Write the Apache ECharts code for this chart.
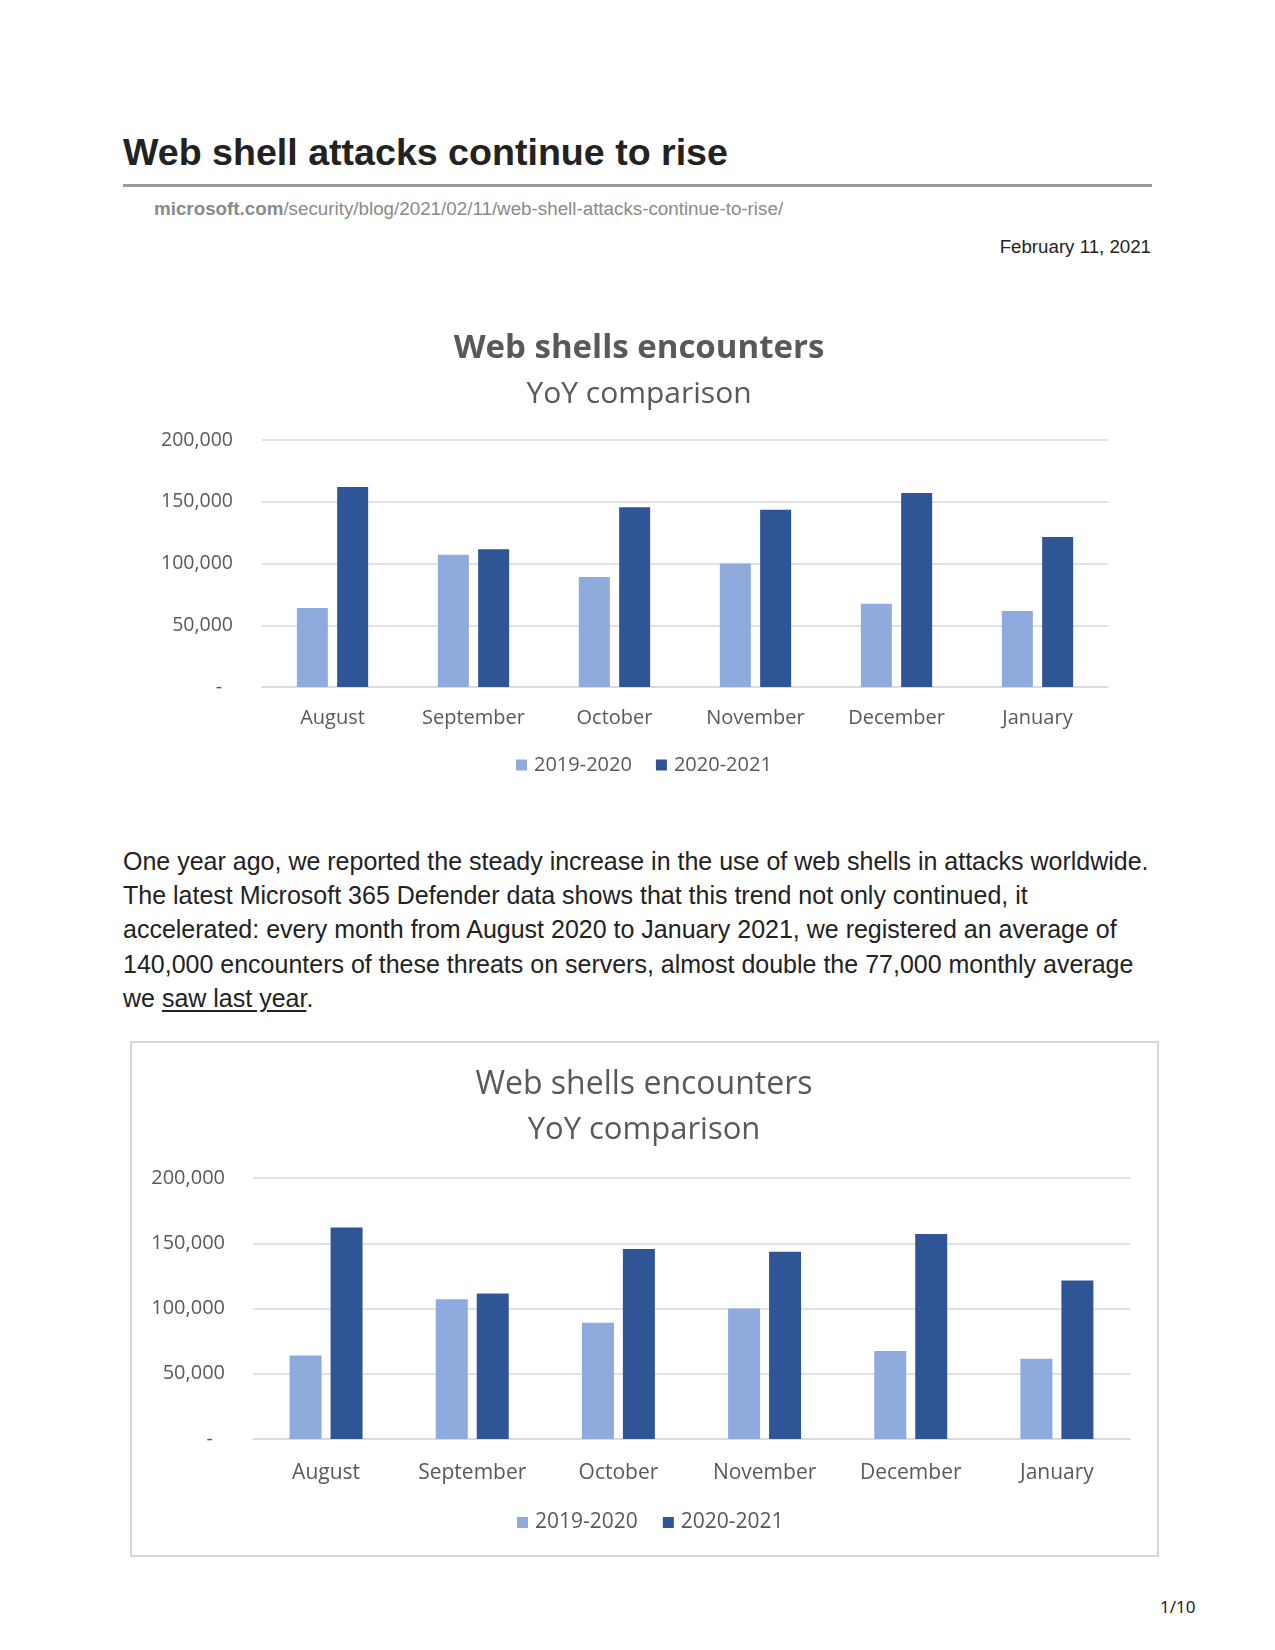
<!DOCTYPE html>
<html>
<head>
<meta charset="utf-8">
<script src="https://cdn.jsdelivr.net/npm/echarts@6/dist/echarts.min.js"></script>
<style>
  html, body { margin: 0; padding: 0; background: #fff; }
  body { width: 1275px; height: 1650px; position: relative; overflow: hidden; font-family: "Liberation Sans", Arial, sans-serif; }
  .abs { position: absolute; white-space: nowrap; }
  #h1 { left: 123px; top: 132.5px; font-size: 37.6px; line-height: 38px; font-weight: bold; color: #222; }
  #rule { left: 123px; top: 184px; width: 1029px; height: 3px; background: #9a9a9a; }
  #url { left: 154px; top: 198.5px; font-size: 18.8px; line-height: 19px; color: #8a8a8a; }
  #url b { color: #8a8a8a; }
  #date { right: 124px; top: 237px; font-size: 18.7px; line-height: 19px; color: #222; }
  #para { left: 123px; top: 843.5px; font-size: 25px; line-height: 34.4px; color: #222; }
  #para u { text-decoration: underline; text-underline-offset: 3px; }
  #pg { left: 1160px; top: 1598px; font-size: 17px; line-height: 17px; color: #222; font-family: "Noto Sans", sans-serif; }
  #c1 { position: absolute; left: 130px; top: 300px; width: 1000px; height: 490px; }
  #box2 { position: absolute; left: 130px; top: 1041px; width: 1029px; height: 516px; box-sizing: border-box; border: 2px solid #d6d6d6; }
  #c2 { position: absolute; left: 132px; top: 1043px; width: 1025px; height: 512px; }
</style>
</head>
<body>
<div class="abs" id="h1">Web shell attacks continue to rise</div>
<div class="abs" id="rule"></div>
<div class="abs" id="url"><b>microsoft.com</b>/security/blog/2021/02/11/web-shell-attacks-continue-to-rise/</div>
<div class="abs" id="date">February 11, 2021</div>
<div id="c1"></div>
<div class="abs" id="para">One year ago, we reported the steady increase in the use of web shells in attacks worldwide.<br>The latest Microsoft 365 Defender data shows that this trend not only continued, it<br>accelerated: every month from August 2020 to January 2021, we registered an average of<br>140,000 encounters of these threats on servers, almost double the 77,000 monthly average<br>we <u>saw last year</u>.</div>
<div id="box2"></div>
<div id="c2"></div>
<div class="abs" id="pg">1/10</div>

<script>
// ---- data ----
const chartTitle = 'Web shells encounters';
const chartSubtitle = 'YoY comparison';
const categories = ['August', 'September', 'October', 'November', 'December', 'January'];
const seriesNames = ['2019-2020', '2020-2021'];
const values2019 = [64000, 107000, 89000, 100000, 67500, 61500];
const values2020 = [162000, 111500, 145500, 143500, 157000, 121500];
const yMin = 0, yMax = 200000, yStep = 50000;

const LIGHT = '#8faadc', DARK = '#2f5597', TXT = '#595959', GRID = '#d9d9d9';
const FONT = '"Open Sans", "Noto Sans", sans-serif';

function fmt(v) {
  if (v === 0) return '{d|-}';
  return v.toLocaleString('en-US');
}

function buildOption(p) {
  return {
    animation: false,
    textStyle: { fontFamily: FONT },
    title: [
      { text: chartTitle, left: p.titleX, top: p.titleTop, textAlign: 'center', padding: 0,
        textStyle: { fontFamily: FONT, fontSize: p.titleSize, fontWeight: p.titleWeight, color: TXT, lineHeight: p.titleSize } },
      { text: chartSubtitle, left: p.titleX, top: p.subTop, textAlign: 'center', padding: 0,
        textStyle: { fontFamily: FONT, fontSize: p.subSize, fontWeight: 'normal', color: TXT, lineHeight: p.subSize } }
    ],
    legend: {
      data: seriesNames, left: p.legendLeft, top: p.legendTop, padding: 0,
      icon: 'rect', itemWidth: 11, itemHeight: 11, itemGap: p.legendGap,
      textStyle: { fontFamily: FONT, fontSize: p.legendSize, color: TXT, lineHeight: p.legendSize, padding: [0, 0, 0, 2] }
    },
    grid: { left: p.gridLeft, right: p.gridRight, top: p.gridTop, height: p.gridHeight, containLabel: false },
    xAxis: {
      type: 'category', data: categories,
      axisLine: { show: true, lineStyle: { color: GRID, width: 1.5 } },
      axisTick: { show: false },
      axisLabel: { fontFamily: FONT, fontSize: p.xSize, color: TXT, margin: p.xMargin, lineHeight: p.xSize }
    },
    yAxis: {
      type: 'value', min: yMin, max: yMax, interval: yStep,
      axisLine: { show: false }, axisTick: { show: false },
      splitLine: { lineStyle: { color: GRID, width: 1.5 } },
      axisLabel: { fontFamily: FONT, fontSize: p.ySize, color: TXT, margin: p.yMargin, formatter: fmt,
        rich: { d: { fontFamily: FONT, fontSize: p.ySize, color: TXT, padding: [0, p.dashPad, 0, 0] } } }
    },
    series: [
      { name: seriesNames[0], type: 'bar', data: values2019, barWidth: p.barWidth, barGap: p.barGap,
        itemStyle: { color: LIGHT } },
      { name: seriesNames[1], type: 'bar', data: values2020, barWidth: p.barWidth, barGap: p.barGap,
        itemStyle: { color: DARK } }
    ]
  };
}

const c1 = echarts.init(document.getElementById('c1'), null, { renderer: 'canvas' });
c1.setOption(buildOption({
  titleX: 509, titleTop: 32, titleSize: 33, titleWeight: 'bold', subTop: 79, subSize: 30,
  legendLeft: 386, legendTop: 455, legendGap: 24, legendSize: 20,
  gridLeft: 132, gridRight: 22, gridTop: 140, gridHeight: 247,
  xSize: 20, xMargin: 21, ySize: 19.5, yMargin: 29, dashPad: 11,
  barWidth: 31, barGap: '30%'
}));

const c2 = echarts.init(document.getElementById('c2'), null, { renderer: 'canvas' });
c2.setOption(buildOption({
  titleX: 512, titleTop: 26, titleSize: 32, titleWeight: 'normal', subTop: 72, subSize: 31,
  legendLeft: 385, legendTop: 469, legendGap: 25, legendSize: 21,
  gridLeft: 121, gridRight: 27, gridTop: 135, gridHeight: 261,
  xSize: 21, xMargin: 24, ySize: 20, yMargin: 28, dashPad: 12,
  barWidth: 32, barGap: '28%'
}));
</script>
</body>
</html>
